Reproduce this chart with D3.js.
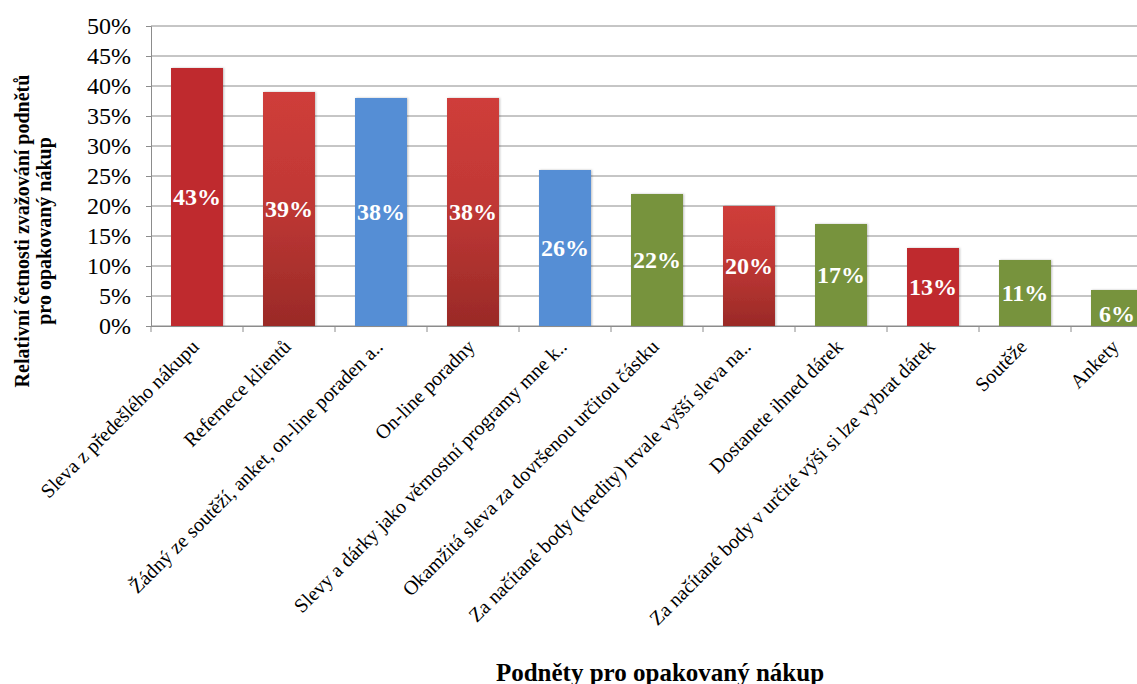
<!DOCTYPE html>
<html>
<head>
<meta charset="utf-8">
<script src="https://cdn.jsdelivr.net/npm/d3@7"></script>
<style>
  html, body { margin: 0; padding: 0; background: #fff; }
  svg { display: block; }
  svg text { font-family: "Liberation Serif", "Times New Roman", "DejaVu Serif", serif; }
</style>
</head>
<body>
<svg id="chart" width="1137" height="684"></svg>
<script>
// Incentives for repeat purchase: relative frequency of each being considered
const categories = [
  "Sleva z předešlého nákupu",
  "Refernece klientů",
  "Žádný ze soutěží, anket, on-line poraden a..",
  "On-line poradny",
  "Slevy a dárky jako věrnostní programy mne k..",
  "Okamžitá sleva za dovršenou určitou částku",
  "Za načítané body (kredity) trvale vyšší sleva na..",
  "Dostanete ihned dárek",
  "Za načítané body v určité výši si lze vybrat dárek",
  "Soutěže",
  "Ankety"
];
const values = [0.43, 0.39, 0.38, 0.38, 0.26, 0.22, 0.20, 0.17, 0.13, 0.11, 0.06];
// fill style per bar: solid red, red gradient, blue, green
const fills = ["red", "redGrad", "blue", "redGrad", "blue", "green", "redGrad", "green", "red", "green", "green"];
const yTicks = [0, 0.05, 0.10, 0.15, 0.20, 0.25, 0.30, 0.35, 0.40, 0.45, 0.50];

const svg = d3.select("#chart");
const plotLeft = 151, plotTop = 26, plotBottom = 326, step = 92;

const x = d3.scaleBand()
  .domain(categories)
  .range([plotLeft, plotLeft + step * categories.length])
  .paddingInner(0.435)
  .paddingOuter(0.2175);
const y = d3.scaleLinear().domain([0, 0.5]).range([plotBottom, plotTop]);

const defs = svg.append("defs");
const grad = defs.append("linearGradient")
  .attr("id", "redGrad").attr("x1", 0).attr("y1", 0).attr("x2", 0).attr("y2", 1);
grad.append("stop").attr("offset", "0%").attr("stop-color", "#cf3d3a");
grad.append("stop").attr("offset", "45%").attr("stop-color", "#c13835");
grad.append("stop").attr("offset", "100%").attr("stop-color", "#9a2a27");
const shadow = defs.append("filter").attr("id", "shadow")
  .attr("x", "-20%").attr("y", "-5%").attr("width", "140%").attr("height", "110%");
shadow.append("feDropShadow").attr("dx", 1).attr("dy", 0).attr("stdDeviation", 1.2)
  .attr("flood-color", "#000").attr("flood-opacity", 0.25);

const fillColor = {
  red: "#bf2c2f",
  redGrad: "url(#redGrad)",
  blue: "#558ed5",
  green: "#77933c"
};

// horizontal gridlines
svg.append("g")
  .selectAll("line")
  .data(yTicks)
  .join("line")
  .attr("x1", plotLeft).attr("x2", 1137)
  .attr("y1", d => y(d)).attr("y2", d => y(d))
  .attr("stroke", "#8c8c8c").attr("stroke-width", 1);

// y axis
const yAxis = svg.append("g")
  .attr("transform", `translate(${plotLeft},0)`)
  .call(d3.axisLeft(y).tickValues(yTicks).tickFormat(d3.format(".0%")).tickSize(5).tickPadding(15));
yAxis.attr("font-family", null);
yAxis.select(".domain").attr("stroke", "#8c8c8c");
yAxis.selectAll(".tick line").attr("stroke", "#8c8c8c");
yAxis.selectAll("text")
  .attr("font-size", 24).attr("fill", "#000");

// bars
svg.append("g")
  .selectAll("rect")
  .data(values)
  .join("rect")
  .attr("x", (d, i) => x(categories[i]))
  .attr("y", d => y(d))
  .attr("width", x.bandwidth())
  .attr("height", d => y(0) - y(d))
  .attr("fill", (d, i) => fillColor[fills[i]])
  .attr("filter", "url(#shadow)");

// x axis with ticks at category boundaries
const xg = svg.append("g");
xg.append("line")
  .attr("x1", plotLeft).attr("x2", 1137).attr("y1", plotBottom + 0.5).attr("y2", plotBottom + 0.5)
  .attr("stroke", "#8c8c8c");
xg.selectAll("line.tk")
  .data(d3.range(categories.length + 1))
  .join("line")
  .attr("class", "tk")
  .attr("x1", i => plotLeft + i * x.step()).attr("x2", i => plotLeft + i * x.step())
  .attr("y1", plotBottom).attr("y2", plotBottom + 6)
  .attr("stroke", "#8c8c8c");

// category labels, rotated
svg.append("g")
  .selectAll("text")
  .data(categories)
  .join("text")
  .attr("transform", d => `translate(${x(d) + x.bandwidth() / 2 + 3},${plotBottom + 22}) rotate(-45)`)
  .attr("text-anchor", "end")
  .attr("font-size", 20)
  .attr("fill", "#000")
  .text(d => d);

// value labels inside bars
svg.append("g")
  .selectAll("text")
  .data(values)
  .join("text")
  .attr("x", (d, i) => x(categories[i]) + x.bandwidth() / 2)
  .attr("y", d => (y(d) + y(0)) / 2)
  .attr("dy", d => d < 0.1 ? "0.6em" : "0.35em")
  .attr("text-anchor", "middle")
  .attr("font-weight", "bold")
  .attr("font-size", 24)
  .attr("fill", "#fff")
  .text(d => d3.format(".0%")(d));

// axis titles
svg.append("text")
  .attr("transform", "translate(29,231) rotate(-90)")
  .attr("text-anchor", "middle")
  .attr("font-weight", "bold")
  .attr("font-size", 20)
  .text("Relativní četnosti zvažování podnětů");
svg.append("text")
  .attr("transform", "translate(51,231) rotate(-90)")
  .attr("text-anchor", "middle")
  .attr("font-weight", "bold")
  .attr("font-size", 20)
  .text("pro opakovaný nákup");

svg.append("text")
  .attr("x", 660).attr("y", 681)
  .attr("text-anchor", "middle")
  .attr("font-weight", "bold")
  .attr("font-size", 25)
  .text("Podněty pro opakovaný nákup");
</script>
</body>
</html>
